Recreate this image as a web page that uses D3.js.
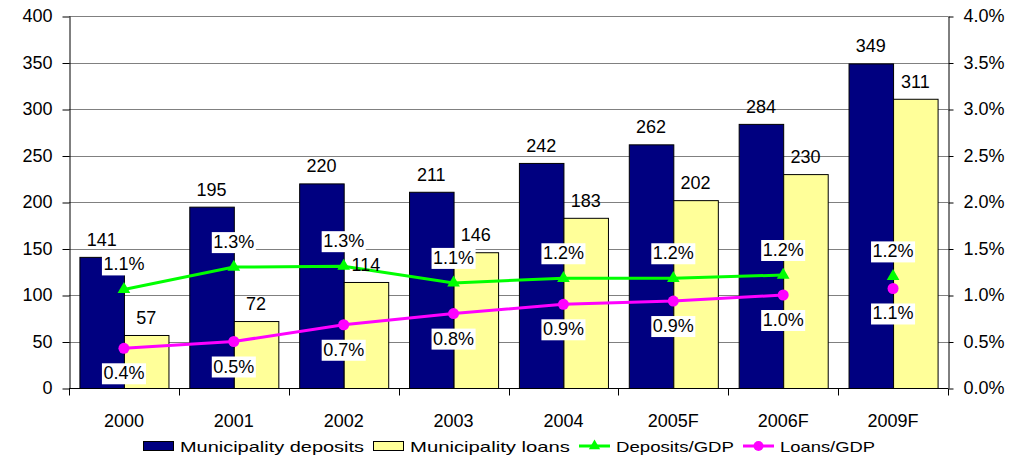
<!DOCTYPE html>
<html>
<head>
<meta charset="utf-8">
<script src="https://cdn.jsdelivr.net/npm/d3@7"></script>
<style>
  body { margin: 0; background: #fff; }
  svg { display: block; font-family: "Liberation Sans", Arial, sans-serif; }
  .axis text { font-size: 18px; fill: #000; }
  .axis path, .axis line { stroke: #000; }
</style>
</head>
<body>
<svg id="chart" width="1020" height="457"></svg>
<script>
// data
const categories = ['2000', '2001', '2002', '2003', '2004', '2005F', '2006F', '2009F'];
const deposits = [141, 195, 220, 211, 242, 262, 284, 349];
const loans = [57, 72, 114, 146, 183, 202, 230, 311];
const depositsGdp = [0.0106, 0.0130, 0.0131, 0.0113, 0.0118, 0.0118, 0.01215, 0.0120];
const loansGdp = [0.00427, 0.0050, 0.0068, 0.0080, 0.0090, 0.00935, 0.0100, 0.0107];
const leftTicks = [0, 50, 100, 150, 200, 250, 300, 350, 400];
const rightTicks = [0, 0.005, 0.01, 0.015, 0.02, 0.025, 0.03, 0.035, 0.04];
const breakBefore = '2009F'; // lines are not joined across this gap

const seriesNames = ['Municipality deposits', 'Municipality loans', 'Deposits/GDP', 'Loans/GDP'];

const width = 1020, height = 457;
const margin = { top: 16, right: 72, bottom: 69, left: 69 };
const plotW = width - margin.left - margin.right;
const plotH = height - margin.top - margin.bottom;

const colors = { deposits: '#000080', loans: '#ffff99', depGdp: '#00ff00', loanGdp: '#ff00ff' };

const svg = d3.select('#chart');

const x = d3.scaleBand().domain(categories).range([margin.left, margin.left + plotW]).padding(0);
const xSub = d3.scaleBand().domain(['dep', 'loan']).range([0, x.bandwidth()]).paddingInner(0).paddingOuter(0.234);
const y = d3.scaleLinear().domain([0, 400]).range([margin.top + plotH, margin.top]);
const y2 = d3.scaleLinear().domain([0, 0.04]).range([margin.top + plotH, margin.top]);

// gridlines
svg.append('g')
  .selectAll('line')
  .data(leftTicks.filter(d => d > 0))
  .join('line')
  .attr('x1', margin.left).attr('x2', margin.left + plotW)
  .attr('y1', d => Math.round(y(d)) + 0.5).attr('y2', d => Math.round(y(d)) + 0.5)
  .attr('stroke', '#808080').attr('stroke-width', 1);

// bars
const rows = categories.map((c, i) => ({ cat: c, dep: deposits[i], loan: loans[i], dg: depositsGdp[i], lg: loansGdp[i] }));

const groups = svg.append('g').selectAll('g')
  .data(rows)
  .join('g')
  .attr('transform', d => `translate(${x(d.cat)},0)`);

groups.append('rect')
  .attr('x', xSub('dep') + 0.5)
  .attr('y', d => y(d.dep) + 0.5)
  .attr('width', xSub.bandwidth())
  .attr('height', d => y(0) - y(d.dep))
  .attr('fill', colors.deposits)
  .attr('stroke', '#000');

groups.append('rect')
  .attr('x', xSub('loan') + 0.5)
  .attr('y', d => y(d.loan) + 0.5)
  .attr('width', xSub.bandwidth())
  .attr('height', d => y(0) - y(d.loan))
  .attr('fill', colors.loans)
  .attr('stroke', '#000');

// axes
const yAxisL = svg.append('g')
  .attr('class', 'axis')
  .attr('transform', `translate(${margin.left + 0.5},0)`)
  .call(d3.axisLeft(y).tickValues(leftTicks).tickSize(7).tickPadding(10).tickSizeOuter(0));
yAxisL.selectAll('.tick line').attr('transform', 'translate(0,0.5)');

const yAxisR = svg.append('g')
  .attr('class', 'axis')
  .attr('transform', `translate(${margin.left + plotW + 0.5},0)`)
  .call(d3.axisRight(y2).tickValues(rightTicks).tickFormat(d3.format('.1%')).tickSize(5).tickPadding(10).tickSizeOuter(0));
yAxisR.selectAll('.tick line').attr('transform', 'translate(0,0.5)');

const xAxis = svg.append('g')
  .attr('class', 'axis')
  .attr('transform', `translate(0,${Math.round(y(0)) + 0.5})`)
  .call(d3.axisBottom(x).tickSize(0).tickPadding(26).tickSizeOuter(0));
xAxis.select('.domain').attr('d', `M${margin.left},0H${margin.left + plotW}`);
xAxis.selectAll('.boundary')
  .data(categories.map(c => x(c)).concat([margin.left + plotW]))
  .join('line')
  .attr('class', 'boundary')
  .attr('x1', d => Math.round(d) + 0.5).attr('x2', d => Math.round(d) + 0.5)
  .attr('y1', 0).attr('y2', 7)
  .attr('stroke', '#000');

// lines
const cx = d => x(d.cat) + x.bandwidth() / 2;
const split = categories.indexOf(breakBefore);
const segments = [rows.slice(0, split), rows.slice(split)];

const lineDep = d3.line().x(cx).y(d => y2(d.dg));
const lineLoan = d3.line().x(cx).y(d => y2(d.lg));

segments.forEach(seg => {
  svg.append('path').datum(seg).attr('d', lineDep)
    .attr('fill', 'none').attr('stroke', colors.depGdp).attr('stroke-width', 3);
  svg.append('path').datum(seg).attr('d', lineLoan)
    .attr('fill', 'none').attr('stroke', colors.loanGdp).attr('stroke-width', 3);
});

const triangle = d3.symbol().type(d3.symbolTriangle).size(70);
svg.append('g').selectAll('path')
  .data(rows)
  .join('path')
  .attr('d', triangle)
  .attr('transform', d => `translate(${cx(d)},${y2(d.dg)})`)
  .attr('fill', colors.depGdp);

svg.append('g').selectAll('circle')
  .data(rows)
  .join('circle')
  .attr('cx', cx)
  .attr('cy', d => y2(d.lg))
  .attr('r', 5.5)
  .attr('fill', colors.loanGdp);

// bar value labels
const labels = svg.append('g').style('font-size', '18px').attr('fill', '#000').attr('text-anchor', 'middle');
labels.selectAll('.lbl-dep')
  .data(rows)
  .join('text')
  .attr('class', 'lbl-dep')
  .attr('x', d => x(d.cat) + xSub('dep') + xSub.bandwidth() / 2)
  .attr('y', d => y(d.dep) - 11)
  .text(d => d.dep);
labels.selectAll('.lbl-loan')
  .data(rows)
  .join('text')
  .attr('class', 'lbl-loan')
  .attr('x', d => x(d.cat) + xSub('loan') + xSub.bandwidth() / 2)
  .attr('y', d => y(d.loan) - 11)
  .text(d => d.loan);

// percentage labels with white boxes
const pct = d3.format('.1%');
function boxedLabel(g, px, py, txt) {
  const t = g.append('text')
    .attr('x', px).attr('y', py)
    .attr('dominant-baseline', 'central')
    .attr('text-anchor', 'middle')
    .style('font-size', '18px')
    .text(txt);
  const b = t.node().getBBox();
  g.insert('rect', () => t.node())
    .attr('x', b.x - 1.5).attr('y', py - 10)
    .attr('width', b.width + 3).attr('height', 21)
    .attr('fill', '#fff');
}
const pctLayer = svg.append('g');
rows.forEach(d => {
  boxedLabel(pctLayer.append('g'), cx(d), y2(d.dg) - 25, pct(d.dg));
  boxedLabel(pctLayer.append('g'), cx(d), y2(d.lg) + 25, pct(d.lg));
});

// legend
const legendTextW = [184, 160, 118, 95];
const symW = 31, textGap = 6, itemGap = 9;
const totalW = d3.sum(legendTextW) + seriesNames.length * (symW + textGap) + (seriesNames.length - 1) * itemGap;
let lx = Math.round(margin.left + plotW / 2 - totalW / 2);
const ly = 446;
const legend = svg.append('g');
seriesNames.forEach((name, i) => {
  const g = legend.append('g').attr('transform', `translate(${lx},${ly})`);
  if (i < 2) {
    g.append('rect')
      .attr('x', 0.5).attr('y', -4.5)
      .attr('width', symW - 1).attr('height', 9)
      .attr('fill', i === 0 ? colors.deposits : colors.loans)
      .attr('stroke', '#000');
  } else {
    const c = i === 2 ? colors.depGdp : colors.loanGdp;
    g.append('line').attr('x1', 0).attr('x2', symW).attr('y1', 0).attr('y2', 0)
      .attr('stroke', c).attr('stroke-width', 3);
    if (i === 2) {
      g.append('path').attr('d', d3.symbol().type(d3.symbolTriangle).size(55)())
        .attr('transform', `translate(${symW / 2},0)`).attr('fill', c);
    } else {
      g.append('circle').attr('cx', symW / 2).attr('cy', 0).attr('r', 5).attr('fill', c);
    }
  }
  g.append('text')
    .attr('x', symW + textGap)
    .attr('y', 6)
    .style('font-size', '15px')
    .attr('textLength', legendTextW[i])
    .attr('lengthAdjust', 'spacingAndGlyphs')
    .text(name);
  lx += symW + textGap + legendTextW[i] + itemGap;
});
</script>
</body>
</html>
